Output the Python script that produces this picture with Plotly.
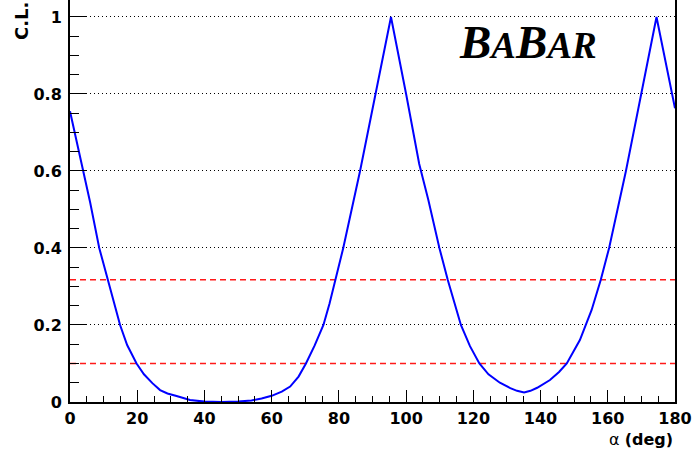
import plotly.graph_objects as go

# Scan of alpha (deg) vs confidence level
alpha_deg = [0, 2, 4, 6, 8.7, 11.2, 13, 14.9, 17, 19.8, 22, 24.5, 26.8, 29, 31.7, 35.7, 40, 45,
             50, 54, 57, 60, 63, 65.5, 68, 70.2, 72.8, 75.4, 77.2, 79, 81.3, 86.3, 91, 95.5,
             100, 102, 103.9, 106.6, 109.9, 112.4, 114.3, 116.3, 119, 121.8, 124.5, 127.9, 131,
             133, 135.1, 137, 139, 142.8, 145.5, 147.8, 151.7, 155.2, 157.9, 160.4, 165.4,
             169.9, 174.5, 180]
cl_values = [0.755, 0.675, 0.598, 0.518, 0.40, 0.317, 0.26, 0.20, 0.148, 0.10, 0.072, 0.049,
             0.031, 0.022, 0.0156, 0.005, 0.001, 0.0, 0.001, 0.004, 0.009, 0.016, 0.027, 0.04,
             0.066, 0.10, 0.147, 0.20, 0.255, 0.317, 0.40, 0.60, 0.80, 1.0, 0.80, 0.71, 0.618,
             0.525, 0.40, 0.317, 0.257, 0.20, 0.145, 0.10, 0.072, 0.05, 0.036, 0.029, 0.025,
             0.029, 0.037, 0.057, 0.078, 0.10, 0.161, 0.239, 0.317, 0.40, 0.60, 0.80, 1.0, 0.763]

# reference C.L. levels (1 sigma and 10%)
cl_levels = [0.3173, 0.1]

x_range = [0, 180]
y_range = [0, 1.044]
y_ticks = [0, 0.2, 0.4, 0.6, 0.8, 1.0]
y_ticklabels = ["0", "0.2", "0.4", "0.6", "0.8", "1"]
x_ticks = [0, 20, 40, 60, 80, 100, 120, 140, 160, 180]

fig = go.Figure()

for lvl in cl_levels:
    fig.add_trace(go.Scatter(x=x_range, y=[lvl, lvl], mode="lines",
                             line=dict(color="#ff1a1a", width=1.5, dash="6px,4px"),
                             hoverinfo="skip", showlegend=False))

fig.add_trace(go.Scatter(x=alpha_deg, y=cl_values, mode="lines",
                         line=dict(color="#0000ff", width=2), showlegend=False))

FONT = "DejaVu Sans, Liberation Sans, Arial, sans-serif"
tickfont = dict(family=FONT, size=16, color="black")

fig.update_layout(
    width=696, height=450,
    margin=dict(l=70, r=21, t=0, b=48),
    paper_bgcolor="white", plot_bgcolor="white",
    xaxis=dict(range=x_range, tickvals=x_ticks, ticktext=[f"<b>{v}</b>" for v in x_ticks],
               ticks="inside", ticklen=12, tickwidth=1, ticklabelstandoff=1,
               tickcolor="black", showline=True, linecolor="black", linewidth=2,
               showgrid=False, zeroline=False, tickfont=tickfont,
               minor=dict(dtick=5, ticks="inside", ticklen=6, tickcolor="black", showgrid=False)),
    yaxis=dict(range=y_range, tickvals=y_ticks, ticktext=[f"<b>{t}</b>" for t in y_ticklabels],
               ticks="inside", ticklen=17, tickwidth=1, tickcolor="black", showline=True,
               linecolor="black", linewidth=2, mirror=True, showgrid=True, gridcolor="black",
               griddash="1px,3px", gridwidth=1, zeroline=False, tickfont=tickfont, ticklabelstandoff=3,
               minor=dict(dtick=0.05, ticks="inside", ticklen=9, tickcolor="black", showgrid=False)),
)

fig.add_annotation(xref="paper", yref="paper", x=-0.081, y=1.0, xanchor="center", yanchor="top",
                   text="<b>C.L.</b>", textangle=-90, showarrow=False,
                   font=dict(family=FONT, size=18, color="black"))

fig.add_annotation(xref="paper", yref="paper", x=0.998, y=-0.0672, xanchor="right", yanchor="top",
                   text="α <b>(deg)</b>", showarrow=False, borderpad=0,
                   font=dict(family=FONT, size=16, color="black"))

fig.add_annotation(xref="paper", yref="paper", x=0.757, y=0.965, xanchor="center", yanchor="top",
                   text="<b><i>B<span style='font-size:37px'>A</span>B<span style='font-size:37px'>A</span>"
                        "<span style='font-size:37px'>R</span></i></b>",
                   showarrow=False,
                   font=dict(family="Liberation Serif, Times New Roman, serif", size=47, color="black"))

fig.write_html("out.html", config={"displayModeBar": False},
               post_script="document.body.style.margin='0';document.body.style.padding='0';")
